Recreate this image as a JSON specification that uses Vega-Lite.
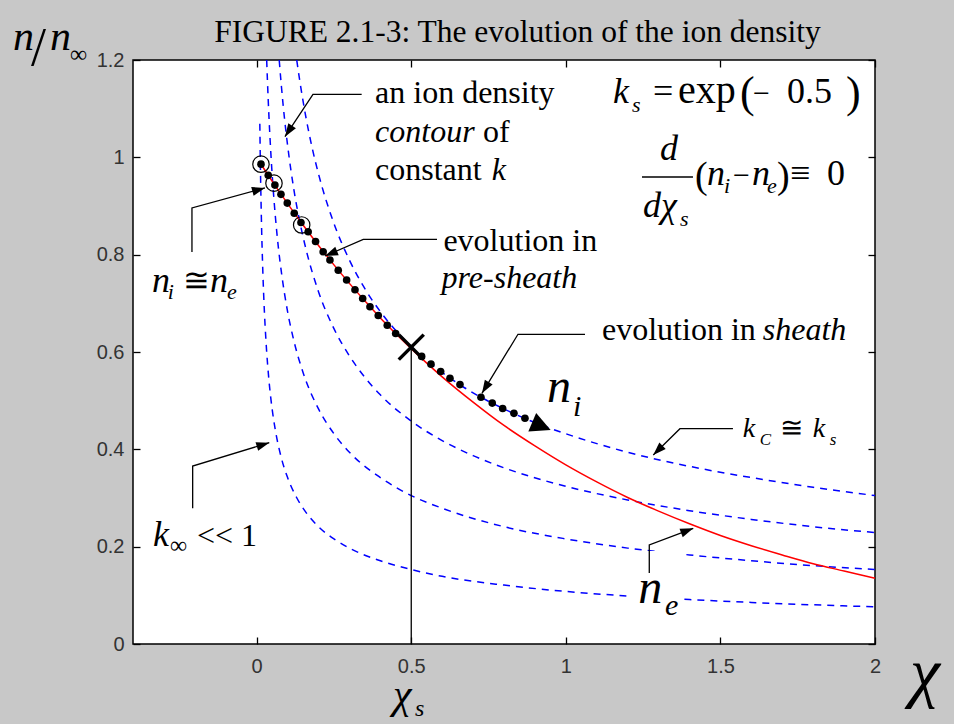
{
  "$schema": "https://vega.github.io/schema/vega-lite/v6.json",
  "width": 742,
  "height": 584,
  "autosize": {"type": "none"},
  "padding": {"left": 133, "top": 60, "right": 79, "bottom": 80},
  "background": "#c8c8c8",
  "config": {
    "view": {"fill": "white", "stroke": "black", "strokeWidth": 1.5}
  },
  "datasets": {
    "contours": [
      {"curve": "k1", "chi": 0.0102, "n": 1.069}, {"curve": "k1", "chi": 0.012, "n": 0.986}, {"curve": "k1", "chi": 0.015, "n": 0.882},
      {"curve": "k1", "chi": 0.02, "n": 0.764}, {"curve": "k1", "chi": 0.025, "n": 0.683}, {"curve": "k1", "chi": 0.03, "n": 0.624},
      {"curve": "k1", "chi": 0.04, "n": 0.54}, {"curve": "k1", "chi": 0.05, "n": 0.483}, {"curve": "k1", "chi": 0.06, "n": 0.441},
      {"curve": "k1", "chi": 0.08, "n": 0.382}, {"curve": "k1", "chi": 0.1, "n": 0.342}, {"curve": "k1", "chi": 0.13, "n": 0.3},
      {"curve": "k1", "chi": 0.16, "n": 0.27}, {"curve": "k1", "chi": 0.2, "n": 0.241}, {"curve": "k1", "chi": 0.25, "n": 0.216},
      {"curve": "k1", "chi": 0.3, "n": 0.197}, {"curve": "k1", "chi": 0.4, "n": 0.171}, {"curve": "k1", "chi": 0.5, "n": 0.153},
      {"curve": "k1", "chi": 0.6, "n": 0.139}, {"curve": "k1", "chi": 0.8, "n": 0.121}, {"curve": "k1", "chi": 1.0, "n": 0.108},
      {"curve": "k1", "chi": 1.2, "n": 0.0986}, {"curve": "k1", "chi": 1.4, "n": 0.0913}, {"curve": "k1", "chi": 1.6, "n": 0.0854},
      {"curve": "k1", "chi": 1.8, "n": 0.0805}, {"curve": "k1", "chi": 2.0, "n": 0.0764},
      {"curve": "k2", "chi": 0.0324, "n": 1.2}, {"curve": "k2", "chi": 0.035, "n": 1.155}, {"curve": "k2", "chi": 0.04, "n": 1.08},
      {"curve": "k2", "chi": 0.045, "n": 1.018}, {"curve": "k2", "chi": 0.05, "n": 0.966}, {"curve": "k2", "chi": 0.06, "n": 0.882},
      {"curve": "k2", "chi": 0.07, "n": 0.816}, {"curve": "k2", "chi": 0.08, "n": 0.764}, {"curve": "k2", "chi": 0.1, "n": 0.683},
      {"curve": "k2", "chi": 0.12, "n": 0.624}, {"curve": "k2", "chi": 0.15, "n": 0.558}, {"curve": "k2", "chi": 0.2, "n": 0.483},
      {"curve": "k2", "chi": 0.25, "n": 0.432}, {"curve": "k2", "chi": 0.3, "n": 0.394}, {"curve": "k2", "chi": 0.4, "n": 0.342},
      {"curve": "k2", "chi": 0.5, "n": 0.305}, {"curve": "k2", "chi": 0.6, "n": 0.279}, {"curve": "k2", "chi": 0.8, "n": 0.241},
      {"curve": "k2", "chi": 1.0, "n": 0.216}, {"curve": "k2", "chi": 1.2, "n": 0.197}, {"curve": "k2", "chi": 1.4, "n": 0.183},
      {"curve": "k2", "chi": 1.6, "n": 0.171}, {"curve": "k2", "chi": 1.8, "n": 0.161}, {"curve": "k2", "chi": 2.0, "n": 0.153},
      {"curve": "k3", "chi": 0.0729, "n": 1.2}, {"curve": "k3", "chi": 0.08, "n": 1.146}, {"curve": "k3", "chi": 0.09, "n": 1.08},
      {"curve": "k3", "chi": 0.1, "n": 1.025}, {"curve": "k3", "chi": 0.12, "n": 0.935}, {"curve": "k3", "chi": 0.14, "n": 0.866},
      {"curve": "k3", "chi": 0.16, "n": 0.81}, {"curve": "k3", "chi": 0.2, "n": 0.724}, {"curve": "k3", "chi": 0.25, "n": 0.648},
      {"curve": "k3", "chi": 0.3, "n": 0.592}, {"curve": "k3", "chi": 0.35, "n": 0.548}, {"curve": "k3", "chi": 0.4, "n": 0.512},
      {"curve": "k3", "chi": 0.5, "n": 0.458}, {"curve": "k3", "chi": 0.6, "n": 0.418}, {"curve": "k3", "chi": 0.7, "n": 0.387},
      {"curve": "k3", "chi": 0.8, "n": 0.362}, {"curve": "k3", "chi": 1.0, "n": 0.324}, {"curve": "k3", "chi": 1.2, "n": 0.296},
      {"curve": "k3", "chi": 1.4, "n": 0.274}, {"curve": "k3", "chi": 1.6, "n": 0.256}, {"curve": "k3", "chi": 1.8, "n": 0.241},
      {"curve": "k3", "chi": 2.0, "n": 0.229},
      {"curve": "k4", "chi": 0.1296, "n": 1.2}, {"curve": "k4", "chi": 0.14, "n": 1.155}, {"curve": "k4", "chi": 0.16, "n": 1.08},
      {"curve": "k4", "chi": 0.18, "n": 1.018}, {"curve": "k4", "chi": 0.2, "n": 0.966}, {"curve": "k4", "chi": 0.25, "n": 0.864},
      {"curve": "k4", "chi": 0.3, "n": 0.789}, {"curve": "k4", "chi": 0.35, "n": 0.73}, {"curve": "k4", "chi": 0.4, "n": 0.683},
      {"curve": "k4", "chi": 0.45, "n": 0.644}, {"curve": "k4", "chi": 0.5, "n": 0.611}, {"curve": "k4", "chi": 0.6, "n": 0.558},
      {"curve": "k4", "chi": 0.7, "n": 0.516}, {"curve": "k4", "chi": 0.8, "n": 0.483}, {"curve": "k4", "chi": 0.9, "n": 0.455},
      {"curve": "k4", "chi": 1.0, "n": 0.432}, {"curve": "k4", "chi": 1.2, "n": 0.394}, {"curve": "k4", "chi": 1.4, "n": 0.365},
      {"curve": "k4", "chi": 1.6, "n": 0.342}, {"curve": "k4", "chi": 1.8, "n": 0.322}, {"curve": "k4", "chi": 2.0, "n": 0.305}
    ],
    "electrons": [
      {"chi": 0.014, "n": 0.986}, {"chi": 0.05, "n": 0.951}, {"chi": 0.1, "n": 0.905}, {"chi": 0.15, "n": 0.861},
      {"chi": 0.2, "n": 0.819}, {"chi": 0.25, "n": 0.779}, {"chi": 0.3, "n": 0.741}, {"chi": 0.35, "n": 0.705},
      {"chi": 0.4, "n": 0.67}, {"chi": 0.5, "n": 0.607}, {"chi": 0.6, "n": 0.549}, {"chi": 0.7, "n": 0.497},
      {"chi": 0.8, "n": 0.449}, {"chi": 0.9, "n": 0.407}, {"chi": 1.0, "n": 0.368}, {"chi": 1.1, "n": 0.333},
      {"chi": 1.2, "n": 0.301}, {"chi": 1.3, "n": 0.273}, {"chi": 1.4, "n": 0.247}, {"chi": 1.5, "n": 0.223},
      {"chi": 1.6, "n": 0.202}, {"chi": 1.7, "n": 0.183}, {"chi": 1.8, "n": 0.165}, {"chi": 1.9, "n": 0.15},
      {"chi": 2.0, "n": 0.135}
    ],
    "ions": [
      {"chi": 0.014, "n": 0.986}, {"chi": 0.0375, "n": 0.963}, {"chi": 0.059, "n": 0.943}, {"chi": 0.0786, "n": 0.924},
      {"chi": 0.099, "n": 0.906}, {"chi": 0.1216, "n": 0.885}, {"chi": 0.1433, "n": 0.866}, {"chi": 0.1666, "n": 0.847},
      {"chi": 0.1905, "n": 0.827}, {"chi": 0.2151, "n": 0.806}, {"chi": 0.237, "n": 0.789}, {"chi": 0.2639, "n": 0.768},
      {"chi": 0.291, "n": 0.748}, {"chi": 0.318, "n": 0.728}, {"chi": 0.3429, "n": 0.71}, {"chi": 0.3665, "n": 0.693},
      {"chi": 0.3933, "n": 0.675}, {"chi": 0.4224, "n": 0.655}, {"chi": 0.4496, "n": 0.638},
      {"chi": 0.5337, "n": 0.591}, {"chi": 0.5638, "n": 0.575}, {"chi": 0.5951, "n": 0.56}, {"chi": 0.6252, "n": 0.546},
      {"chi": 0.6576, "n": 0.533}, {"chi": 0.7255, "n": 0.507}, {"chi": 0.762, "n": 0.495}, {"chi": 0.7957, "n": 0.484},
      {"chi": 0.8322, "n": 0.474}, {"chi": 0.8678, "n": 0.464}
    ],
    "equal": [
      {"chi": 0.0139, "n": 0.986}, {"chi": 0.056, "n": 0.947}, {"chi": 0.1456, "n": 0.861}
    ],
    "leaders": [
      {"id": "a1", "k": 1, "chi": 0.3396, "n": 1.1295}, {"id": "a1", "k": 2, "chi": 0.1821, "n": 1.1295}, {"id": "a1", "k": 3, "chi": 0.0915, "n": 1.0424},
      {"id": "a2", "k": 1, "chi": -0.2093, "n": 0.8055}, {"id": "a2", "k": 2, "chi": -0.2093, "n": 0.8959}, {"id": "a2", "k": 3, "chi": 0.0268, "n": 0.937},
      {"id": "a3", "k": 1, "chi": 0.5832, "n": 0.8316}, {"id": "a3", "k": 2, "chi": 0.3448, "n": 0.8316}, {"id": "a3", "k": 3, "chi": 0.2209, "n": 0.7973},
      {"id": "a4", "k": 1, "chi": 1.0619, "n": 0.6364}, {"id": "a4", "k": 2, "chi": 0.8452, "n": 0.6364}, {"id": "a4", "k": 3, "chi": 0.7287, "n": 0.5151},
      {"id": "a5", "k": 1, "chi": 1.5405, "n": 0.4424}, {"id": "a5", "k": 2, "chi": 1.3691, "n": 0.4424}, {"id": "a5", "k": 3, "chi": 1.2828, "n": 0.3884},
      {"id": "a6", "k": 1, "chi": -0.207, "n": 0.2788}, {"id": "a6", "k": 2, "chi": -0.207, "n": 0.3657}, {"id": "a6", "k": 3, "chi": 0.0408, "n": 0.4136},
      {"id": "a7", "k": 1, "chi": 1.2699, "n": 0.1459}, {"id": "a7", "k": 2, "chi": 1.2699, "n": 0.2034}, {"id": "a7", "k": 3, "chi": 1.4122, "n": 0.2377}
    ],
    "heads": [
      {"id": "a1", "chi": 0.0915, "n": 1.0424, "dir": 123.4},
      {"id": "a2", "chi": 0.0268, "n": 0.937, "dir": -15.3},
      {"id": "a3", "chi": 0.2209, "n": 0.7973, "dir": 157.7},
      {"id": "a4", "chi": 0.7287, "n": 0.5151, "dir": 121.4},
      {"id": "a5", "chi": 1.2828, "n": 0.3884, "dir": 135.4},
      {"id": "a6", "chi": 0.0408, "n": 0.4136, "dir": -16.9},
      {"id": "a7", "chi": 1.4122, "n": 0.2377, "dir": -20.8}
    ]
  },
  "encoding": {
    "x": {"field": "chi", "type": "quantitative", "scale": {"domain": [-0.4, 2], "nice": false, "zero": false}, "axis": null},
    "y": {"field": "n", "type": "quantitative", "scale": {"domain": [0, 1.2], "nice": false, "zero": false}, "axis": null}
  },
  "layer": [
    {
      "data": {"name": "contours"},
      "mark": {"type": "line", "color": "#0000ff", "strokeWidth": 1.5, "strokeDash": [7, 6], "interpolate": "monotone"},
      "encoding": {
        "x": {"field": "chi", "type": "quantitative", "scale": {"domain": [-0.4, 2], "nice": false, "zero": false},
          "axis": {"orient": "bottom", "values": [0, 0.5, 1, 1.5, 2], "format": "~g", "title": null, "domain": false, "grid": false,
            "tickSize": -7, "tickColor": "black", "tickWidth": 1.3, "labelFont": "Liberation Sans", "labelFontSize": 20,
            "labelColor": "#333333", "labelPadding": 19, "labelFlush": false, "labelOverlap": false, "labelBound": false}},
        "y": {"field": "n", "type": "quantitative", "scale": {"domain": [0, 1.2], "nice": false, "zero": false},
          "axis": {"orient": "left", "values": [0, 0.2, 0.4, 0.6, 0.8, 1, 1.2], "format": "~g", "title": null, "domain": false, "grid": false,
            "tickSize": -7, "tickColor": "black", "tickWidth": 1.3, "labelFont": "Liberation Sans", "labelFontSize": 20,
            "labelColor": "#333333", "labelPadding": 16, "labelFlush": false, "labelOverlap": false, "labelBound": false}},
        "detail": {"field": "curve"}
      }
    },
    {
      "data": {"name": "electrons"},
      "mark": {"type": "line", "color": "#ff0000", "strokeWidth": 1.5, "interpolate": "monotone"}
    },
    {
      "data": {"values": [{"chi": 1.197, "chi2": 1.381, "n": 0.1911, "n2": 0.049}]},
      "mark": {"type": "rect", "fill": "white"},
      "encoding": {"x2": {"field": "chi2"}, "y2": {"field": "n2"}}
    },
    {
      "data": {"values": [{"chi": 0.5, "n": 0, "n2": 0.61}]},
      "mark": {"type": "rule", "color": "black", "strokeWidth": 1.3},
      "encoding": {
        "x": {"field": "chi", "type": "quantitative", "scale": {"domain": [-0.4, 2], "nice": false, "zero": false},
          "axis": {"orient": "top", "values": [0, 0.5, 1, 1.5, 2], "labels": false, "title": null, "domain": false, "grid": false,
            "tickSize": -7, "tickColor": "black", "tickWidth": 1.3}},
        "y": {"field": "n", "type": "quantitative", "scale": {"domain": [0, 1.2], "nice": false, "zero": false},
          "axis": {"orient": "right", "values": [0, 0.2, 0.4, 0.6, 0.8, 1, 1.2], "labels": false, "title": null, "domain": false, "grid": false,
            "tickSize": -7, "tickColor": "black", "tickWidth": 1.3}},
        "y2": {"field": "n2"}
      }
    },
    {
      "data": {"values": [{"chi": 1.2463, "chi2": 1.4112, "n": 0.9596}]},
      "mark": {"type": "rule", "color": "black", "strokeWidth": 1.5},
      "encoding": {"x2": {"field": "chi2"}}
    },
    {
      "data": {"name": "ions"},
      "mark": {"type": "point", "shape": "circle", "filled": true, "color": "black", "size": 58, "opacity": 1}
    },
    {
      "data": {"name": "equal"},
      "mark": {"type": "point", "shape": "circle", "filled": false, "stroke": "black", "strokeWidth": 1.2, "size": 270, "opacity": 1}
    },
    {
      "data": {"values": [{"chi": 0.5, "n": 0.61}]},
      "mark": {"type": "point", "shape": "M-1,-1L1,1M-1,1L1,-1", "filled": false, "stroke": "black", "strokeWidth": 3.5, "size": 625, "opacity": 1}
    },
    {
      "data": {"values": [{"chi": 0.9509, "n": 0.4397}]},
      "mark": {"type": "point", "shape": "M0,0L-2,-1L-2,1Z", "filled": true, "color": "black", "size": 400, "angle": 23, "opacity": 1}
    },
    {
      "data": {"name": "leaders"},
      "mark": {"type": "line", "color": "black", "strokeWidth": 1.3},
      "encoding": {"detail": {"field": "id"}, "order": {"field": "k"}}
    },
    {
      "data": {"name": "heads"},
      "mark": {"type": "point", "shape": "M0,0L-2,-0.7L-2,0.7Z", "filled": true, "color": "black", "size": 169, "opacity": 1},
      "encoding": {"angle": {"field": "dir", "type": "quantitative", "scale": null}}
    },
    {
      "data": {"values": [{"t": "FIGURE 2.1-3: The evolution of the ion density", "chi": 0.8436, "n": 1.238}]},
      "mark": {"type": "text", "font": "Liberation Serif", "fontSize": 31.5, "align": "center", "baseline": "alphabetic", "color": "black"},
      "encoding": {"text": {"field": "t"}}
    },
    {
      "data": {"values": [
        {"t": "an ion density", "chi": 0.383, "n": 1.111},
        {"t": "of", "chi": 0.732, "n": 1.031},
        {"t": "constant", "chi": 0.383, "n": 0.953},
        {"t": "evolution in", "chi": 0.604, "n": 0.8075},
        {"t": "evolution in", "chi": 1.117, "n": 0.625},
        {"t": "<< 1", "chi": -0.1931, "n": 0.2014}
      ]},
      "mark": {"type": "text", "font": "Liberation Serif", "fontSize": 32, "align": "left", "baseline": "alphabetic", "color": "black"},
      "encoding": {"text": {"field": "t"}}
    },
    {
      "data": {"values": [
        {"t": "contour", "chi": 0.383, "n": 1.031},
        {"t": "k", "chi": 0.76, "n": 0.953},
        {"t": "pre-sheath", "chi": 0.598, "n": 0.7305},
        {"t": "sheath", "chi": 1.637, "n": 0.625}
      ]},
      "mark": {"type": "text", "font": "Liberation Serif", "fontSize": 32, "fontStyle": "italic", "align": "left", "baseline": "alphabetic", "color": "black"},
      "encoding": {"text": {"field": "t"}}
    },
    {
      "data": {"values": [
        {"t": "k", "chi": 1.1524, "n": 1.111},
        {"t": "d", "chi": 1.3045, "n": 0.9945},
        {"t": "dχ", "chi": 1.2495, "n": 0.8774},
        {"t": "n", "chi": 1.4565, "n": 0.9432},
        {"t": "n", "chi": 1.6021, "n": 0.9432},
        {"t": "n", "chi": -0.3387, "n": 0.7239},
        {"t": "n", "chi": -0.1511, "n": 0.7239},
        {"t": "k", "chi": -0.3354, "n": 0.2014}
      ]},
      "mark": {"type": "text", "font": "Liberation Serif", "fontSize": 36, "fontStyle": "italic", "align": "left", "baseline": "alphabetic", "color": "black"},
      "encoding": {"text": {"field": "t"}}
    },
    {
      "data": {"values": [
        {"t": "=", "chi": 1.2818, "n": 1.111},
        {"t": "0.5", "chi": 1.7152, "n": 1.111},
        {"t": "≡", "chi": 1.7249, "n": 0.9432},
        {"t": "0", "chi": 1.8446, "n": 0.9432}
      ]},
      "mark": {"type": "text", "font": "Liberation Serif", "fontSize": 36, "align": "left", "baseline": "alphabetic", "color": "black"},
      "encoding": {"text": {"field": "t"}}
    },
    {
      "data": {"values": [{"t": "exp", "chi": 1.3627, "n": 1.111}]},
      "mark": {"type": "text", "font": "Liberation Serif", "fontSize": 40, "align": "left", "baseline": "alphabetic", "color": "black"},
      "encoding": {"text": {"field": "t"}}
    },
    {
      "data": {"values": [
        {"t": "−", "chi": 1.6053, "n": 1.111},
        {"t": "−", "chi": 1.5406, "n": 0.9432}
      ]},
      "mark": {"type": "text", "font": "Liberation Serif", "fontSize": 30, "align": "left", "baseline": "alphabetic", "color": "black"},
      "encoding": {"text": {"field": "t"}}
    },
    {
      "data": {"values": [{"t": "≅", "chi": -0.2384, "n": 0.7253}]},
      "mark": {"type": "text", "font": "Liberation Serif", "fontSize": 32, "align": "left", "baseline": "alphabetic", "color": "black"},
      "encoding": {"text": {"field": "t"}}
    },
    {
      "data": {"values": [
        {"t": "(", "chi": 1.5632, "n": 1.1024},
        {"t": ")", "chi": 1.9061, "n": 1.1024}
      ]},
      "mark": {"type": "text", "font": "Liberation Serif", "fontSize": 44, "align": "left", "baseline": "alphabetic", "color": "black"},
      "encoding": {"text": {"field": "t"}}
    },
    {
      "data": {"values": [
        {"t": "(", "chi": 1.4177, "n": 0.937},
        {"t": ")", "chi": 1.6829, "n": 0.937}
      ]},
      "mark": {"type": "text", "font": "Liberation Serif", "fontSize": 38, "align": "left", "baseline": "alphabetic", "color": "black"},
      "encoding": {"text": {"field": "t"}}
    },
    {
      "data": {"values": [
        {"t": "s", "chi": 1.2139, "n": 1.0931},
        {"t": "s", "chi": 1.3692, "n": 0.8589},
        {"t": "i", "chi": 1.5114, "n": 0.9267},
        {"t": "e", "chi": 1.6505, "n": 0.9267},
        {"t": "i", "chi": -0.2872, "n": 0.7089},
        {"t": "e", "chi": -0.0961, "n": 0.7089}
      ]},
      "mark": {"type": "text", "font": "Liberation Serif", "fontSize": 22, "fontStyle": "italic", "align": "left", "baseline": "alphabetic", "color": "black"},
      "encoding": {"text": {"field": "t"}}
    },
    {
      "data": {"values": [
        {"t": "k", "chi": 1.572, "n": 0.426},
        {"t": "k", "chi": 1.7985, "n": 0.426}
      ]},
      "mark": {"type": "text", "font": "Liberation Serif", "fontSize": 28, "fontStyle": "italic", "align": "left", "baseline": "alphabetic", "color": "black"},
      "encoding": {"text": {"field": "t"}}
    },
    {
      "data": {"values": [{"t": "≅", "chi": 1.6917, "n": 0.426}]},
      "mark": {"type": "text", "font": "Liberation Serif", "fontSize": 28, "align": "left", "baseline": "alphabetic", "color": "black"},
      "encoding": {"text": {"field": "t"}}
    },
    {
      "data": {"values": [
        {"t": "C", "chi": 1.627, "n": 0.4089},
        {"t": "s", "chi": 1.8535, "n": 0.4089}
      ]},
      "mark": {"type": "text", "font": "Liberation Serif", "fontSize": 17, "fontStyle": "italic", "align": "left", "baseline": "alphabetic", "color": "black"},
      "encoding": {"text": {"field": "t"}}
    },
    {
      "data": {"values": [
        {"t": "∞", "chi": -0.2804, "n": 0.187},
        {"t": "∞", "chi": -0.6039, "n": 1.1959}
      ]},
      "mark": {"type": "text", "font": "Liberation Serif", "fontSize": 24, "align": "left", "baseline": "alphabetic", "color": "black"},
      "encoding": {"text": {"field": "t"}}
    },
    {
      "data": {"values": [
        {"t": "n", "chi": 0.939, "n": 0.4973},
        {"t": "n", "chi": 1.2343, "n": 0.0836}
      ]},
      "mark": {"type": "text", "font": "Liberation Serif", "fontSize": 48, "fontStyle": "italic", "align": "left", "baseline": "alphabetic", "color": "black"},
      "encoding": {"text": {"field": "t"}}
    },
    {
      "data": {"values": [
        {"t": "i", "chi": 1.0231, "n": 0.4685},
        {"t": "e", "chi": 1.3206, "n": 0.0596}
      ]},
      "mark": {"type": "text", "font": "Liberation Serif", "fontSize": 30, "fontStyle": "italic", "align": "left", "baseline": "alphabetic", "color": "black"},
      "encoding": {"text": {"field": "t"}}
    },
    {
      "data": {"values": [
        {"t": "n", "chi": -0.7882, "n": 1.2205},
        {"t": "n", "chi": -0.6685, "n": 1.2205},
        {"t": "χ", "chi": 0.4409, "n": -0.1315}
      ]},
      "mark": {"type": "text", "font": "Liberation Serif", "fontSize": 42, "fontStyle": "italic", "align": "left", "baseline": "alphabetic", "color": "black"},
      "encoding": {"text": {"field": "t"}}
    },
    {
      "data": {"values": [{"t": "/", "chi": -0.73, "n": 1.19}]},
      "mark": {"type": "text", "font": "Liberation Serif", "fontSize": 54, "align": "left", "baseline": "alphabetic", "color": "black"},
      "encoding": {"text": {"field": "t"}}
    },
    {
      "data": {"values": [{"t": "s", "chi": 0.512, "n": -0.1479}]},
      "mark": {"type": "text", "font": "Liberation Serif", "fontSize": 24, "fontStyle": "italic", "align": "left", "baseline": "alphabetic", "color": "black"},
      "encoding": {"text": {"field": "t"}}
    },
    {
      "data": {"values": [{"t": "χ", "chi": 2.1129, "n": -0.1048}]},
      "mark": {"type": "text", "font": "Liberation Serif", "fontSize": 68, "fontStyle": "italic", "align": "left", "baseline": "alphabetic", "color": "black"},
      "encoding": {"text": {"field": "t"}}
    }
  ],
  "resolve": {"axis": {"x": "independent", "y": "independent"}}
}
